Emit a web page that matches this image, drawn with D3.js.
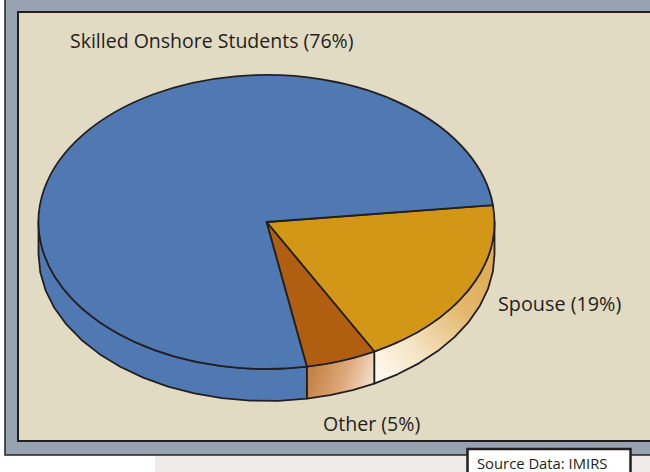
<!DOCTYPE html>
<html><head><meta charset="utf-8">
<script src="https://cdnjs.cloudflare.com/ajax/libs/d3/7.8.5/d3.min.js"></script>
<style>html,body{margin:0;padding:0;background:#fff;overflow:hidden}svg{display:block}</style>
</head><body><svg id="c" width="650" height="472"></svg>
<script>
const categories = ["Spouse", "Other", "Skilled Onshore Students"];
const shares = [19, 5, 76];
const tickLabels = ["Spouse (19%)", "Other (5%)", "Skilled Onshore Students (76%)"];
const sliceColors = ["#d29716", "#b05f10", "#5079b3"];

const svg = d3.select("#c");
const font = "'Open Sans','Noto Sans',sans-serif", ink = "#231f20";
const cx = 266.5, cy = 222, rx = 228, ry = 147, depth = 32;
const rad = d => d * Math.PI / 180;
const startDeg = 83.4;

svg.append("rect").attr("x",155).attr("y",456).attr("width",495).attr("height",16).attr("fill","#f0ebe8");
svg.append("rect").attr("x",5).attr("y",-5).attr("width",660).attr("height",460).attr("fill","#98a3b1").attr("stroke",ink).attr("stroke-width",1.5);
svg.append("rect").attr("x",18).attr("y",12).attr("width",650).attr("height",429).attr("fill","#e2dbc4").attr("stroke",ink).attr("stroke-width",2);

const defs = svg.append("defs");
function grad(id, x1,y1,x2,y2, stops){
  const g = defs.append("linearGradient").attr("id",id).attr("gradientUnits","userSpaceOnUse")
    .attr("x1",x1).attr("y1",y1).attr("x2",x2).attr("y2",y2);
  stops.forEach(s=>g.append("stop").attr("offset",s[0]).attr("stop-color",s[1]));
  return `url(#${id})`;
}
const wallFills = [
  grad("gSpouse",375,385,490,280,[[0,"#fffdf8"],[0.35,"#f5e3c3"],[0.75,"#e3b76c"],[1,"#dfae58"]]),
  grad("gOther",312,372,372,392,[[0,"#c48445"],[0.5,"#dca779"],[1,"#f7e3d4"]]),
  "#5079b3"
];

const pie = d3.pie().sort(null).value(d=>d).startAngle(rad(startDeg)).endAngle(rad(startDeg+360));
const arcs = pie(shares);
const xs = d3.scaleLinear().domain([-1,1]).range([cx-rx,cx+rx]);
const ys = d3.scaleLinear().domain([-1,1]).range([cy-ry,cy+ry]);
const px = a => xs(Math.sin(a)), py = a => ys(-Math.cos(a));

// side wall, only the front half of the rim
const line = d3.line().x(d=>d[0]).y(d=>d[1]);
arcs.forEach((a,i)=>{
  const s = Math.max(a.startAngle, rad(90)), e = Math.min(a.endAngle, rad(270));
  if (e <= s) return;
  const n = Math.max(2, Math.round((e-s)/rad(7)));
  const angs = d3.range(n+1).map(k=>s+(e-s)*k/n);
  const top = angs.map(t=>[px(t),py(t)]);
  const bot = angs.map(t=>[px(t),py(t)+depth]).reverse();
  svg.append("path").attr("d",line(top.concat(bot))+"Z").attr("fill",wallFills[i])
    .attr("stroke",ink).attr("stroke-width",1.8).attr("stroke-linejoin","round");
});
// top face
const arc = d3.arc().innerRadius(0).outerRadius(1);
const face = svg.append("g").attr("transform",`translate(${cx},${cy}) scale(${rx},${ry})`);
arcs.forEach((a,i)=>{
  face.append("path").attr("d",arc(a)).attr("fill",sliceColors[i]).attr("stroke",ink)
    .attr("stroke-width",1.8).attr("vector-effect","non-scaling-stroke").attr("stroke-linejoin","round");
});

const text = (t,x,y,size,anchor)=>svg.append("text").text(t).attr("x",x).attr("y",y)
  .attr("font-family",font).attr("font-size",size).attr("fill",ink).attr("text-anchor",anchor||"start");
text(tickLabels[2],70,48,19.5);
text(tickLabels[0],498,311,19.8);
text(tickLabels[1],323,431,19.6);

svg.append("rect").attr("x",467.5).attr("y",449).attr("width",163).attr("height",30).attr("fill","#fff").attr("stroke",ink).attr("stroke-width",2.5);
text("Source Data: IMIRS",477,469,14.8);
</script></body></html>
